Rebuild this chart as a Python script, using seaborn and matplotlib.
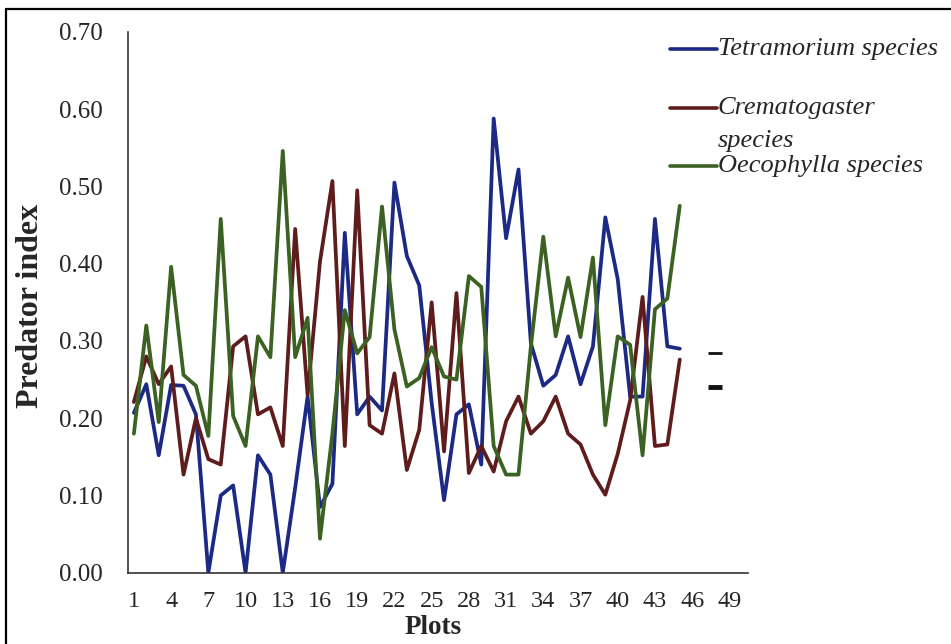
import numpy as np
import pandas as pd
import seaborn as sns
import matplotlib.pyplot as plt
from matplotlib.lines import Line2D
from matplotlib.ticker import MultipleLocator, FormatStrFormatter

# ---- data ----
plots = list(range(1, 46))
tetramorium = [0.207, 0.244, 0.152, 0.243, 0.242, 0.205, 0.000, 0.100, 0.113, 0.000,
               0.152, 0.127, 0.000, 0.110, 0.228, 0.085, 0.115, 0.440, 0.205, 0.228,
               0.210, 0.505, 0.410, 0.372, 0.220, 0.094, 0.205, 0.218, 0.140, 0.588,
               0.433, 0.522, 0.297, 0.242, 0.256, 0.306, 0.244, 0.293, 0.460, 0.380,
               0.228, 0.228, 0.458, 0.293, 0.290]
crematogaster = [0.221, 0.280, 0.244, 0.267, 0.127, 0.200, 0.147, 0.140, 0.293, 0.306,
                 0.205, 0.214, 0.164, 0.445, 0.230, 0.403, 0.507, 0.164, 0.495, 0.191,
                 0.180, 0.258, 0.133, 0.185, 0.350, 0.157, 0.362, 0.129, 0.164, 0.131,
                 0.196, 0.228, 0.180, 0.196, 0.228, 0.180, 0.166, 0.127, 0.101, 0.154,
                 0.223, 0.357, 0.164, 0.166, 0.276]
oecophylla = [0.180, 0.320, 0.195, 0.396, 0.256, 0.242, 0.177, 0.458, 0.203, 0.164,
              0.306, 0.279, 0.546, 0.279, 0.330, 0.044, 0.180, 0.340, 0.284, 0.305,
              0.474, 0.315, 0.241, 0.252, 0.292, 0.254, 0.250, 0.384, 0.370, 0.164,
              0.127, 0.127, 0.293, 0.435, 0.306, 0.382, 0.305, 0.408, 0.191, 0.306,
              0.295, 0.152, 0.341, 0.355, 0.475]
series_names = ["Tetramorium species", "Crematogaster species", "Oecophylla species"]
colors = ["#1c2a85", "#5e1c1c", "#3b6222"]
x_tick_labels = list(range(1, 50, 3))
y_ticks = [0.0, 0.1, 0.2, 0.3, 0.4, 0.5, 0.6, 0.7]
dash_levels = [0.284, 0.240]   # two stray short dashes right of the data

df = pd.DataFrame({
    "Plots": plots * 3,
    "value": tetramorium + crematogaster + oecophylla,
    "species": sum([[n] * len(plots) for n in series_names], []),
})

sns.set_style("white")
plt.rcParams["font.family"] = ["Liberation Serif", "DejaVu Serif"]

fig = plt.figure(figsize=(9.51, 6.44), dpi=100)
W, H = 951, 644
ax = fig.add_axes([127.7 / W, 1 - 572.7 / H, (748 - 127.7) / W, (572.7 - 32) / H])

sns.lineplot(data=df, x="Plots", y="value", hue="species", hue_order=series_names,
             palette=dict(zip(series_names, colors)), linewidth=2.7, legend=False, ax=ax)

ax.hlines(dash_levels, 47.3, 48.4, colors="#111111", linewidth=[2.0, 3.5])

ax.set_xlim(0.5, 50.5)
ax.set_ylim(0, 0.70)
ax.set_xticks(x_tick_labels)
ax.set_xticklabels([str(v) for v in x_tick_labels], fontsize=17.5)
ax.xaxis.set_minor_locator(MultipleLocator(1, offset=0.5))
ax.tick_params(axis="x", which="major", length=0, pad=13)
ax.tick_params(axis="x", which="minor", length=4, width=1, color="#333333", direction="out")
ax.set_yticks(y_ticks)
ax.yaxis.set_major_formatter(FormatStrFormatter("%.2f"))
ax.tick_params(axis="y", which="major", length=5, width=1, color="#333333",
               direction="out", labelsize=18, pad=13)
for s in ["top", "right"]:
    ax.spines[s].set_visible(False)
for s in ["left", "bottom"]:
    ax.spines[s].set_color("#333333")
    ax.spines[s].set_linewidth(1.2)

ax.set_xlabel("")
ax.set_ylabel("")
fig.text(433 / W, 1 - 627 / H, "Plots", ha="center", va="center",
         fontsize=19.5, fontweight="bold")
fig.text(31 / W, 1 - 306 / H, "Predator index", ha="center", va="center",
         rotation=90, fontsize=23, fontweight="bold")

# legend (Excel-like, placed to the right)
leg_rows = [(49, ["Tetramorium species"]),
            (108, ["Crematogaster", "species"]),
            (166, ["Oecophylla species"])]
for (ypx, lines), col in zip(leg_rows, colors):
    fig.add_artist(Line2D([670 / W, 717 / W], [1 - ypx / H] * 2, color=col, lw=2.6))
    for i, t in enumerate(lines):
        fig.text(718 / W, 1 - (ypx + 33 * i) / H, t, ha="left", va="center",
                 fontsize=19, fontstyle="italic")

# figure border (top and left edges visible in the reference)
fig.add_artist(Line2D([6 / W, 6 / W], [0, 1 - 9 / H], color="black", lw=1.6))
fig.add_artist(Line2D([6 / W, 1], [1 - 9 / H, 1 - 9 / H], color="black", lw=1.6))

fig.savefig("out.png", dpi=100)
